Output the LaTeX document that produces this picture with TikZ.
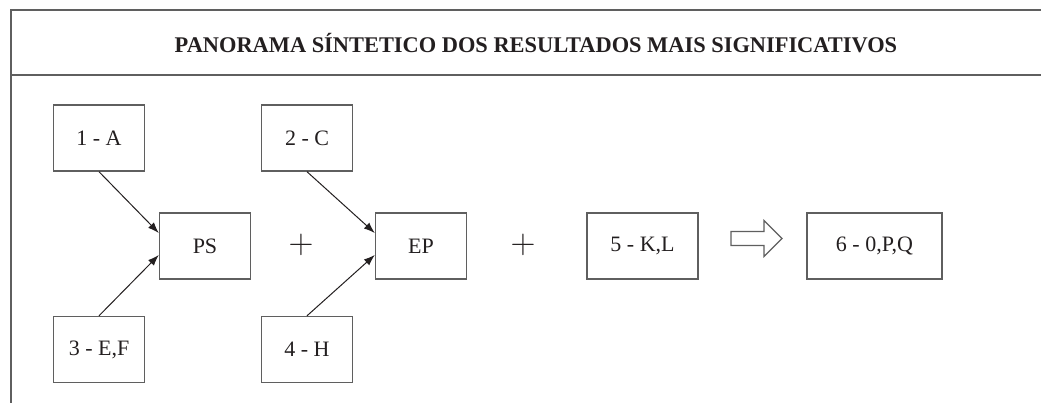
\documentclass[tikz,border=0pt]{standalone}
\usepackage{fontspec}
\setmainfont{Liberation Serif}
\usepackage{xcolor}
\usetikzlibrary{positioning,arrows.meta,calc}
\definecolor{ink}{RGB}{35,31,32}
\definecolor{frame}{RGB}{95,95,95}

\begin{document}
\begin{tikzpicture}[x=0.5pt,y=-0.5pt,
    box/.style={draw=frame, line width=0.7pt, text=ink, inner sep=0pt,
        minimum width=45.5pt, minimum height=33pt, font=\fontsize{11}{13}\selectfont},
    plus/.style={text=ink, font=\fontsize{16}{18}\selectfont},
    feed/.style={draw=ink, line width=0.5pt, -{Latex[length=5.5pt,width=4pt]}}]
\useasboundingbox (0,0) rectangle (1041,403);

% Frame
\draw[frame, line width=0.7pt] (1041,10) -- (11,10) -- (11,403);
\draw[frame, line width=0.7pt] (11,75) -- (1041,75);
\node[text=ink, font=\bfseries\fontsize{11.2}{13}\selectfont] (title) at (536,43)
    {PANORAMA SÍNTETICO DOS RESULTADOS MAIS SIGNIFICATIVOS};

% Boxes
\node[box] (a1) at (99,138) {1 - A};
\node[box] (ef3) at (99,349.5) {3 - E,F};
\node[box] (ps) at (205,246) {PS};
\node[box] (c2) at (307,138) {2 - C};
\node[box] (h4) at (307,349.5) {4 - H};
\node[box] (ep) at (421,246) {EP};
\node[box, minimum width=55.5pt] (kl5) at (642.5,246) {5 - K,L};
\node[box, minimum width=67.5pt] (pq6) at (874.5,246) {6 - 0,P,Q};

% Plus signs
\node[plus] (plus1) at (301,245) {$+$};
\node[plus] (plus2) at (523,245) {$+$};

% Arrows
\draw[feed] (a1.south) -- ([yshift=6.5pt]ps.west);
\draw[feed] (ef3.north) -- ([yshift=-4.5pt]ps.west);
\draw[feed] (c2.south) -- ([yshift=6.5pt]ep.west);
\draw[feed] (h4.north) -- ([yshift=-4.5pt]ep.west);

% Block arrow
\coordinate (tail) at (731,239);
\draw[frame, line width=0.6pt, fill=white]
    ($(tail)+(0,-7.5)$) -- ++(33,0) -- ++(0,-11) -- ++(18,18)
    -- ++(-18,18) -- ++(0,-11) -- ++(-33,0) -- cycle;
\end{tikzpicture}
\end{document}
